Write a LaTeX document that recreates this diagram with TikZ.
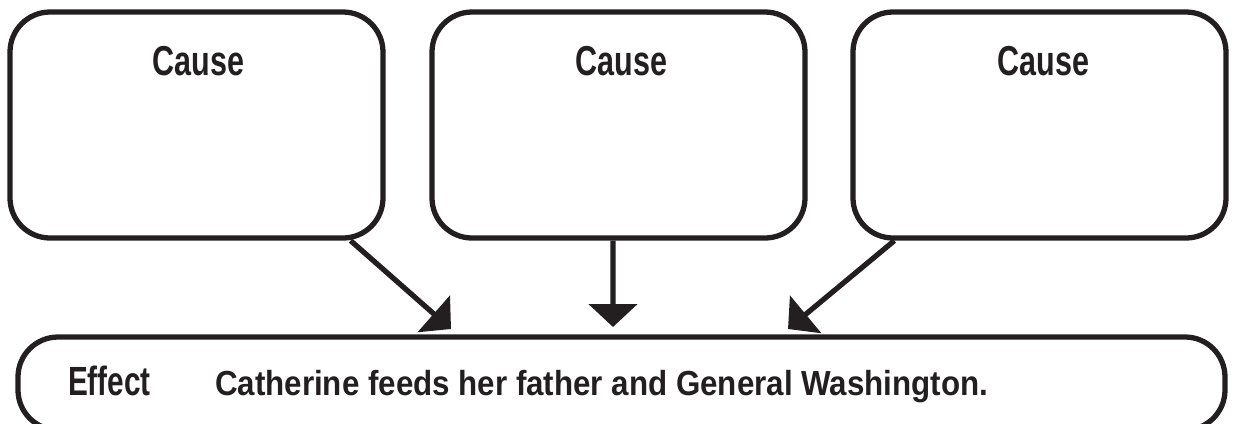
\documentclass[tikz,border=0pt]{standalone}
\usepackage{fontspec}
\newfontfamily\condfont[FakeStretch=0.73]{Liberation Sans}
\newfontfamily\bodyfont[FakeStretch=0.9]{Liberation Sans}
\usepackage{xcolor}
\definecolor{inkblack}{HTML}{231F20}
\usepackage{tikz}
\usetikzlibrary{arrows.meta, positioning, calc}

\tikzset{
  causebox/.style={draw=inkblack, line width=1.5pt, rounded corners=0.4cm,
    minimum width=3.73cm, minimum height=2.26cm},
  effectbox/.style={draw=inkblack, line width=1.5pt, rounded corners=0.4cm,
    minimum width=12.07cm, minimum height=0.93cm},
  headword/.style={inner sep=0pt, text=inkblack,
    font=\condfont\bfseries\fontsize{11.9}{12}\selectfont},
  causearrow/.style={draw=inkblack, line width=1.5pt,
    -{Triangle[length=0.23cm, width=0.48cm]}}
}

\begin{document}
\begin{tikzpicture}
  \useasboundingbox (0, 0) rectangle (12.35, 4.23);

  % --- Cause boxes ---
  \node[causebox] (cause1) at (1.965, 2.98) {};
  \node[causebox] (cause2) at (6.185, 2.98) {};
  \node[causebox] (cause3) at (10.395, 2.98) {};

  \node[headword, anchor=base] (word1) at ($(cause1.north)+(0.02, -0.66)$) {Cause};
  \node[headword, anchor=base] (word2) at ($(cause2.north)+(0.03, -0.66)$) {Cause};
  \node[headword, anchor=base] (word3) at ($(cause3.north)+(0.04, -0.66)$) {Cause};

  % --- Effect box (runs off the bottom edge) ---
  \node[effectbox] (effect) at (6.215, 0.395) {};
  \node[headword, anchor=base west, font=\condfont\bfseries\fontsize{11.6}{12}\selectfont]
    (effword) at ($(effect.west)+(0.52, -0.115)$) {Effect};
  \node[inner sep=0pt, anchor=base west, text=inkblack,
    font=\bodyfont\bfseries\fontsize{9.9}{12}\selectfont]
    (efftext) at ($(effect.west)+(1.99, -0.115)$) {Catherine feeds her father and General Washington.};

  % --- Arrows into the effect ---
  \coordinate (tip1) at (4.51, 0.94);
  \coordinate (tip2) at (6.13, 0.96);
  \coordinate (tip3) at (7.88, 0.94);

  \draw[causearrow] ($(cause1.south east)+(-0.35, 0)$) -- (tip1);
  \draw[causearrow] ($(cause2.south)+(-0.055, 0)$) -- (tip2);
  \draw[causearrow] ($(cause3.south west)+(0.44, 0)$) -- (tip3);
\end{tikzpicture}
\end{document}
